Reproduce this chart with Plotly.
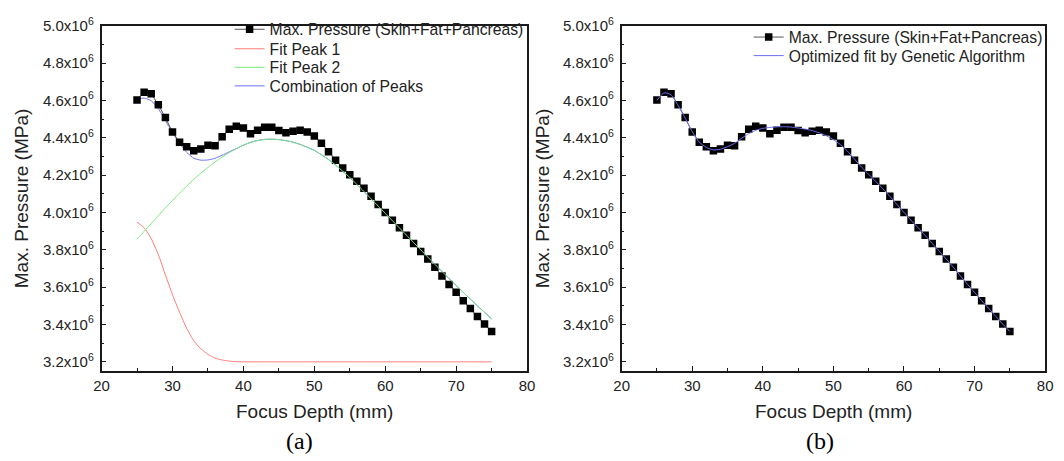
import plotly.graph_objects as go

# Focus depth (mm), 1 mm steps
depth = list(range(25, 76))

# Maximum pressure through skin + fat + pancreas
pressure = [
    4.602e6, 4.643e6, 4.636e6, 4.576e6, 4.508e6, 4.430e6, 4.376e6, 4.351e6, 4.330e6, 4.339e6,
    4.360e6, 4.357e6, 4.405e6, 4.445e6, 4.461e6, 4.452e6, 4.421e6, 4.440e6, 4.456e6, 4.456e6,
    4.438e6, 4.426e6, 4.435e6, 4.440e6, 4.431e6, 4.409e6, 4.370e6, 4.325e6, 4.280e6, 4.238e6,
    4.202e6, 4.167e6, 4.129e6, 4.087e6, 4.043e6, 4.000e6, 3.958e6, 3.918e6, 3.878e6, 3.833e6,
    3.791e6, 3.750e6, 3.706e6, 3.659e6, 3.614e6, 3.572e6, 3.527e6, 3.485e6, 3.443e6, 3.402e6,
    3.362e6,
]

# Two-peak decomposition
peak1 = [
    3.948e6, 3.918e6, 3.860e6, 3.775e6, 3.665e6, 3.560e6, 3.465e6, 3.380e6, 3.313e6, 3.270e6,
    3.240e6, 3.220e6, 3.210e6, 3.204e6, 3.201e6, 3.200e6, 3.200e6, 3.200e6, 3.200e6, 3.200e6,
    3.200e6, 3.200e6, 3.200e6, 3.200e6, 3.200e6, 3.200e6, 3.200e6, 3.200e6, 3.200e6, 3.200e6,
    3.200e6, 3.200e6, 3.200e6, 3.200e6, 3.200e6, 3.200e6, 3.200e6, 3.200e6, 3.200e6, 3.200e6,
    3.200e6, 3.200e6, 3.200e6, 3.200e6, 3.200e6, 3.200e6, 3.200e6, 3.200e6, 3.200e6, 3.200e6,
    3.200e6,
]
peak2 = [
    3.857e6, 3.899e6, 3.941e6, 3.982e6, 4.024e6, 4.064e6, 4.103e6, 4.141e6, 4.177e6, 4.210e6,
    4.241e6, 4.270e6, 4.296e6, 4.320e6, 4.341e6, 4.360e6, 4.375e6, 4.385e6, 4.391e6, 4.392e6,
    4.390e6, 4.384e6, 4.376e6, 4.364e6, 4.349e6, 4.332e6, 4.309e6, 4.283e6, 4.254e6, 4.221e6,
    4.187e6, 4.150e6, 4.112e6, 4.073e6, 4.034e6, 3.995e6, 3.956e6, 3.917e6, 3.878e6, 3.839e6,
    3.800e6, 3.761e6, 3.722e6, 3.684e6, 3.646e6, 3.609e6, 3.572e6, 3.536e6, 3.500e6, 3.465e6,
    3.430e6,
]
peaks_sum = [
    4.606e6, 4.612e6, 4.598e6, 4.556e6, 4.492e6, 4.428e6, 4.370e6, 4.322e6, 4.290e6, 4.280e6,
    4.281e6, 4.290e6, 4.306e6, 4.324e6, 4.342e6, 4.360e6, 4.375e6, 4.385e6, 4.391e6, 4.392e6,
    4.390e6, 4.384e6, 4.376e6, 4.364e6, 4.349e6, 4.332e6, 4.309e6, 4.283e6, 4.254e6, 4.221e6,
    4.187e6, 4.150e6, 4.112e6, 4.073e6, 4.034e6, 3.995e6, 3.956e6, 3.917e6, 3.878e6, 3.839e6,
    3.800e6, 3.761e6, 3.722e6, 3.684e6, 3.646e6, 3.609e6, 3.572e6, 3.536e6, 3.500e6, 3.465e6,
    3.430e6,
]

# Genetic-algorithm fit
ga_fit = [
    4.600e6, 4.640e6, 4.630e6, 4.572e6, 4.505e6, 4.432e6, 4.376e6, 4.348e6, 4.335e6, 4.338e6,
    4.352e6, 4.370e6, 4.397e6, 4.422e6, 4.440e6, 4.450e6, 4.455e6, 4.458e6, 4.459e6, 4.457e6,
    4.452e6, 4.446e6, 4.438e6, 4.426e6, 4.410e6, 4.390e6, 4.363e6, 4.328e6, 4.285e6, 4.242e6,
    4.204e6, 4.166e6, 4.127e6, 4.086e6, 4.043e6, 4.000e6, 3.958e6, 3.918e6, 3.877e6, 3.834e6,
    3.792e6, 3.750e6, 3.706e6, 3.660e6, 3.615e6, 3.572e6, 3.528e6, 3.486e6, 3.444e6, 3.402e6,
    3.362e6,
]

y_ticks = [3.2e6, 3.4e6, 3.6e6, 3.8e6, 4.0e6, 4.2e6, 4.4e6, 4.6e6, 4.8e6, 5.0e6]
y_tick_text = ["3.2x10<sup>6</sup>", "3.4x10<sup>6</sup>", "3.6x10<sup>6</sup>", "3.8x10<sup>6</sup>",
               "4.0x10<sup>6</sup>", "4.2x10<sup>6</sup>", "4.4x10<sup>6</sup>", "4.6x10<sup>6</sup>",
               "4.8x10<sup>6</sup>", "5.0x10<sup>6</sup>"]
x_ticks = [20, 30, 40, 50, 60, 70, 80]

SANS = "Liberation Sans, Arial, sans-serif"
SERIF = "Liberation Serif, Times New Roman, serif"
AX = "#1a1a1a"
TXT = "#222222"
RED = "#ff7a7a"
GREEN = "#78ea78"
BLUE = "#6e6ef2"

W, H = 1064, 461

fig = go.Figure()


def data_trace(xa, ya, legend):
    return go.Scatter(
        x=depth, y=pressure, xaxis=xa, yaxis=ya, legend=legend,
        name="Max. Pressure (Skin+Fat+Pancreas)", mode="lines+markers",
        line=dict(color="#555555", width=1),
        marker=dict(symbol="square", size=7.5, color="black"),
    )


# (a) peak decomposition; one legend box per row so rows sit tight together
fig.add_trace(go.Scatter(x=depth, y=peaks_sum, xaxis="x", yaxis="y", legend="legend4",
                         name="Combination of Peaks", mode="lines",
                         line=dict(color=BLUE, width=1, shape="spline", smoothing=0.6)))
fig.add_trace(data_trace("x", "y", "legend"))
fig.add_trace(go.Scatter(x=depth, y=peak1, xaxis="x", yaxis="y", legend="legend2",
                         name="Fit Peak 1", mode="lines",
                         line=dict(color=RED, width=1, shape="spline", smoothing=0.6)))
fig.add_trace(go.Scatter(x=depth, y=peak2, xaxis="x", yaxis="y", legend="legend3",
                         name="Fit Peak 2", mode="lines",
                         line=dict(color=GREEN, width=1, shape="spline", smoothing=0.6)))

# (b) genetic algorithm fit
fig.add_trace(data_trace("x2", "y2", "legend5"))
fig.add_trace(go.Scatter(x=depth, y=ga_fit, xaxis="x2", yaxis="y2", legend="legend6",
                         name="Optimized fit by Genetic Algorithm", mode="lines",
                         line=dict(color=BLUE, width=1, shape="spline", smoothing=0.6)))

left_dom = [95 / W, 527 / W]
right_dom = [623 / W, 1053 / W]
y_dom = [1 - 369 / H, 1 - 15 / H]

xaxis_common = dict(
    range=[20, 80], tickvals=x_ticks, ticks="inside", ticklen=5, tickwidth=1.2, tickcolor=AX,
    showline=True, linecolor=AX, linewidth=1.5, mirror=True, showgrid=False, zeroline=False,
    tickfont=dict(family=SANS, size=15, color=TXT),
    minor=dict(ticks="inside", dtick=5, ticklen=3, tickcolor=AX, tickwidth=1),
)
yaxis_common = dict(
    range=[3.15e6, 5.0e6], tickvals=y_ticks, ticktext=y_tick_text, ticks="inside", ticklen=5,
    tickwidth=1.2, tickcolor=AX, ticklabelstandoff=3,
    showline=True, linecolor=AX, linewidth=1.5, mirror=True, showgrid=False, zeroline=False,
    tickfont=dict(family=SANS, size=15, color=TXT),
    minor=dict(ticks="inside", dtick=0.1e6, ticklen=3, tickcolor=AX, tickwidth=1),
)


def legend_row(x_px, y_px):
    return dict(
        x=x_px / W, y=1 - y_px / H, xanchor="left", yanchor="middle",
        font=dict(family=SANS, size=15.7, color=TXT), bgcolor="rgba(0,0,0,0)",
        borderwidth=0,
    )


fig.update_layout(
    width=W, height=H, autosize=False,
    margin=dict(l=0, r=0, t=0, b=0),
    paper_bgcolor="white", plot_bgcolor="white",
    xaxis=dict(domain=left_dom, anchor="y", **xaxis_common),
    yaxis=dict(domain=y_dom, anchor="x", **yaxis_common),
    xaxis2=dict(domain=right_dom, anchor="y2", **xaxis_common),
    yaxis2=dict(domain=y_dom, anchor="x2", **yaxis_common),
    legend=legend_row(225, 19),
    legend2=legend_row(225, 39),
    legend3=legend_row(225, 58),
    legend4=legend_row(225, 77),
    legend5=legend_row(752, 27),
    legend6=legend_row(752, 46),
    showlegend=True,
)

annotations = [
    dict(text="Max. Pressure (MPa)", x=14 / W, y=1 - 192 / H, textangle=-90),
    dict(text="Max. Pressure (MPa)", x=543 / W, y=1 - 192 / H, textangle=-90),
    dict(text="Focus Depth (mm)", x=311 / W, y=1 - 410 / H),
    dict(text="Focus Depth (mm)", x=838 / W, y=1 - 410 / H),
]
for a in annotations:
    fig.add_annotation(xref="paper", yref="paper", showarrow=False,
                       xanchor="center", yanchor="middle",
                       font=dict(family=SANS, size=19, color=TXT), **a)

for label, cx in [("(a)", 296), ("(b)", 824)]:
    fig.add_annotation(text=label, xref="paper", yref="paper", x=cx / W, y=1 - 441 / H,
                       showarrow=False, xanchor="center", yanchor="middle",
                       font=dict(family=SERIF, size=24, color="black"))

fig.write_html("out.html")
